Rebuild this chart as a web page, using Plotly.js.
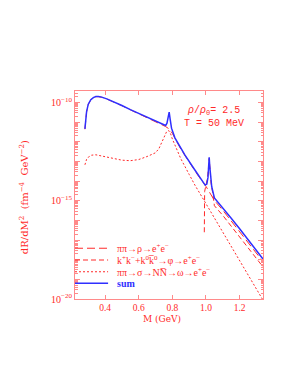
<!DOCTYPE html>
<html>
<head>
<meta charset="utf-8">
<script src="https://cdn.plot.ly/plotly-3.0.1.min.js"></script>
<style>html,body{margin:0;padding:0;background:#fff;}#chart{width:295px;height:382px;}</style>
</head>
<body>
<div id="chart"></div>
<script>
// ---- data ----
const sumM = [0.280,0.285,0.290,0.300,0.315,0.330,0.345,0.360,0.380,0.410,0.450,0.500,0.550,0.600,0.650,0.700,0.740,0.760,0.768,0.775,0.781,0.787,0.795,0.815,0.850,0.875,0.935,0.970,0.995,1.005,1.012,1.016,1.019,1.022,1.027,1.034,1.050,1.100,1.150,1.200,1.250,1.300,1.340];
const sumR = [4.6e-12,1.4e-11,3.5e-11,8.3e-11,1.4e-10,1.8e-10,2.05e-10,2.05e-10,1.9e-10,1.55e-10,1.12e-10,7.1e-11,4.4e-11,2.8e-11,1.8e-11,1.15e-11,8.1e-12,6.8e-12,8.9e-12,1.8e-11,3.3e-11,1.4e-11,5.0e-12,1.6e-12,4.7e-13,2.1e-13,3.6e-14,1.26e-14,6.3e-15,7.1e-15,1.6e-14,6.3e-14,1.66e-13,6.3e-14,1.4e-14,5.2e-15,1.4e-15,4.5e-16,1.3e-16,3.8e-17,1.1e-17,3.2e-18,1.05e-18];

const rhoM = [0.280,0.285,0.290,0.300,0.315,0.330,0.345,0.360,0.380,0.410,0.450,0.500,0.550,0.600,0.650,0.700,0.740,0.760,0.780,0.800,0.850,0.900,0.950,1.000,1.050,1.100,1.150,1.200,1.250,1.300,1.340];
const rhoR = [4.4e-12,1.35e-11,3.4e-11,8.1e-11,1.37e-10,1.76e-10,2.0e-10,2.0e-10,1.86e-10,1.52e-10,1.09e-10,6.9e-11,4.3e-11,2.7e-11,1.7e-11,1.08e-11,7.3e-12,6.0e-12,4.6e-12,2.7e-12,4.3e-13,9.3e-14,2.1e-14,5.4e-15,1.05e-15,3.3e-16,9.6e-17,2.8e-17,8.1e-18,2.3e-18,7.8e-19];

const phiM = [0.990,0.992,1.000,1.008,1.014,1.019,1.024,1.030,1.040,1.050,1.100,1.150,1.200,1.250,1.300,1.340];
const phiR = [2.5e-17,3.0e-15,6.3e-15,1.3e-14,4.0e-14,1.45e-13,4.0e-14,8.0e-15,2.5e-15,5.6e-16,1.8e-16,5.2e-17,1.5e-17,4.5e-18,1.26e-18,4.2e-19];

const omgM = [0.280,0.290,0.300,0.320,0.345,0.380,0.450,0.500,0.550,0.600,0.650,0.700,0.720,0.735,0.750,0.765,0.778,0.790,0.800,0.850,0.900,0.934,1.000,1.100,1.200,1.300,1.335];
const omgR = [6.8e-14,1.3e-13,1.66e-13,2.1e-13,2.2e-13,1.9e-13,1.38e-13,1.17e-13,1.1e-13,1.26e-13,1.8e-13,2.8e-13,4.5e-13,8.9e-13,2.0e-12,3.2e-12,3.8e-12,2.5e-12,1.4e-12,1.4e-13,2.2e-14,6.3e-15,7.1e-16,2.5e-17,7.9e-19,3.2e-20,1.0e-20];

const legendLabels = [
  "ππ→ρ→e<sup>+</sup>e<sup>−</sup>",
  "k<sup>+</sup>k<sup>−</sup>+k<sup>0</sup>k\u0305<sup>0</sup>→φ→e<sup>+</sup>e<sup>−</sup>",
  "ππ→σ→NN\u0305→ω→e<sup>+</sup>e<sup>−</sup>",
  "<b>sum</b>"
];
const yTickVals = [1e-20,1e-19,1e-18,1e-17,1e-16,1e-15,1e-14,1e-13,1e-12,1e-11,1e-10];
const yTickText = ["10<sup>−20</sup>"," "," "," "," ","10<sup>−15</sup>"," "," "," "," ","10<sup>−10</sup>"];
const xTickVals = [0.4,0.6,0.8,1.0,1.2];
const xTickText = ["0.4","0.6","0.8","1.0","1.2"];
const infoLines = ["<i>ρ</i>/<i>ρ</i><sub>0</sub>= 2.5","T = 50 MeV"];
const xTitle = "M (GeV)";
const yTitle = "dR/dM<sup>2</sup>  (fm<sup>−4</sup>  GeV<sup>−2</sup>)";

// ---- styles ----
const RED = '#ff2a2a';
const AXC = '#ff8a8a';
const BLUE = '#2f2fff';
const FONT = 'Liberation Serif, Times New Roman, serif';
const MONO = 'Liberation Mono, Courier New, monospace';
const SERIF2 = 'DejaVu Serif, serif';
const dashRho = '8px,4px';
const dashPhi = '5px,3px';
const dotSty = '2px,2px';

const traces = [
  {x: rhoM, y: rhoR, mode:'lines', line:{color:RED, width:1, dash:dashRho}, showlegend:false, hoverinfo:'skip'},
  {x: phiM, y: phiR, mode:'lines', line:{color:RED, width:1, dash:dashPhi}, showlegend:false, hoverinfo:'skip'},
  {x: omgM, y: omgR, mode:'lines', line:{color:RED, width:1, dash:dotSty}, showlegend:false, hoverinfo:'skip'},
  {x: sumM, y: sumR, mode:'lines', line:{color:BLUE, width:1.5}, showlegend:false, hoverinfo:'skip'}
];

// manual legend (line samples + labels) in paper coordinates
const legY = [0.244, 0.1875, 0.131, 0.0755];
const legDash = [dashRho, dashPhi, dotSty, 'solid'];
const legCol = [RED, RED, RED, BLUE];
const legW = [1,1,1,1.5];
const shapes = legY.map((y,i)=>({type:'line', xref:'paper', yref:'paper', x0:0.0, x1:0.176, y0:y, y1:y, line:{color:legCol[i], width:legW[i], dash:legDash[i]}}));
const annotations = legY.map((y,i)=>({xref:'paper', yref:'paper', x:0.213, y:y, xanchor:'left', yanchor:'middle', text:legendLabels[i], showarrow:false, font:{family:FONT, size:10, color: legCol[i]}}));
annotations.push({xref:'paper', yref:'paper', x:0.739, y:0.902, xanchor:'center', yanchor:'middle', text:infoLines[0], showarrow:false, font:{family:MONO, size:10, color:RED}});
annotations.push({xref:'paper', yref:'paper', x:0.739, y:0.846, xanchor:'center', yanchor:'middle', text:infoLines[1], showarrow:false, font:{family:MONO, size:10, color:RED}});
annotations.push({xref:'paper', yref:'paper', x:0.463, y:-0.096, xanchor:'center', yanchor:'middle', text:xTitle, showarrow:false, font:{family:SERIF2, size:9, color:RED}});
annotations.push({xref:'paper', yref:'paper', x:-0.271, y:0.49, xanchor:'center', yanchor:'middle', textangle:-90, text:yTitle, showarrow:false, font:{family:SERIF2, size:10, color:RED}});

const layout = {
  width:295, height:382,
  margin:{l:75, r:32, t:91, b:83},
  paper_bgcolor:'#fff', plot_bgcolor:'#fff',
  showlegend:false,
  font:{family:FONT, color:RED, size:10},
  xaxis:{
    range:[0.221,1.339], showgrid:false, zeroline:false,
    showline:true, linecolor:AXC, linewidth:1, mirror:'ticks',
    ticks:'inside', ticklen:4, tickcolor:AXC, tickwidth:1,
    tickmode:'array', tickvals:xTickVals, ticktext:xTickText,
    tickfont:{family:FONT, size:9.5, color:RED}
  },
  yaxis:{
    type:'log', range:[-20,-9.41], showgrid:false, zeroline:false,
    showline:true, linecolor:AXC, linewidth:1, mirror:'ticks',
    ticks:'inside', ticklen:5, tickcolor:AXC, tickwidth:1,
    tickmode:'array', tickvals:yTickVals, ticktext:yTickText,
    tickfont:{family:FONT, size:10, color:RED},
    minor:{ticks:'inside', ticklen:2.5, tickcolor:AXC, tickwidth:1, dtick:'D1', showgrid:false}
  },
  shapes: shapes,
  annotations: annotations
};

Plotly.newPlot('chart', traces, layout, {staticPlot:true, displayModeBar:false});
</script>
</body>
</html>
